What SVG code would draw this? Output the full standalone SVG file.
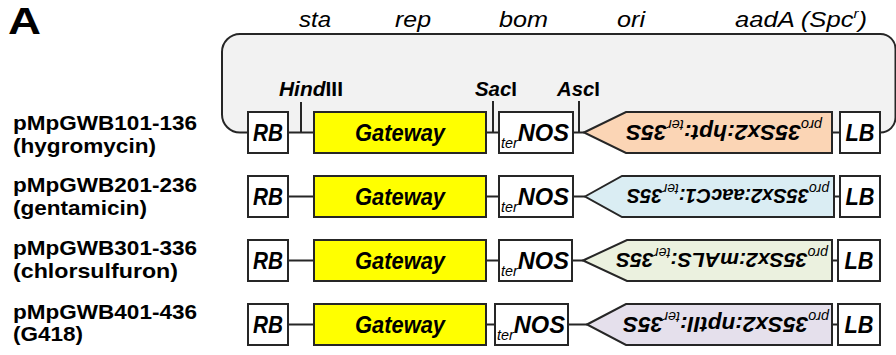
<svg xmlns="http://www.w3.org/2000/svg" width="896" height="355" viewBox="0 0 896 355">
<style>
.t{font-family:"Liberation Sans",Arial,Helvetica,sans-serif;fill:#000}
.b{font-weight:bold}
.i{font-style:italic}
.box{fill:#fff;stroke:#262626;stroke-width:2}
.gw{fill:#ffff00;stroke:#262626;stroke-width:2}
.ln{stroke:#262626;stroke-width:2;fill:none}
.sm{font-size:14px;font-weight:normal;font-style:italic}
.bx{font-size:23px;font-weight:bold;font-style:italic}
</style>
<rect width="896" height="355" fill="#fff"/>

<g id="backbone">
<path d="M248 132.5 H240 A18 18 0 0 1 222 114.5 V52 A18 18 0 0 1 240 34 H880.5 A15 15 0 0 1 895.5 49 V117.5 A15 15 0 0 1 880.5 132.5 Z" fill="#f2f2f2" stroke="none"/>
<path class="ln" d="M248 132.5 H240 A18 18 0 0 1 222 114.5 V52 A18 18 0 0 1 240 34 H880.5 A15 15 0 0 1 895.5 49 V117.5 A15 15 0 0 1 880.5 132.5"/>
</g>

<g id="title"><text class="t b" x="8" y="33.5" font-size="36" textLength="33" lengthAdjust="spacingAndGlyphs">A</text></g>

<g id="backbone-genes" class="t i" font-size="22">
<text x="299" y="27" textLength="32" lengthAdjust="spacingAndGlyphs">sta</text>
<text x="395" y="27" textLength="36" lengthAdjust="spacingAndGlyphs">rep</text>
<text x="499" y="27" textLength="49" lengthAdjust="spacingAndGlyphs">bom</text>
<text x="617" y="27" textLength="28" lengthAdjust="spacingAndGlyphs">ori</text>
<text x="735" y="27" textLength="132" lengthAdjust="spacingAndGlyphs">aadA (Spc<tspan font-size="13" dy="-9">r</tspan><tspan dy="9">)</tspan></text>
</g>

<g id="sites" class="t b" font-size="21">
<text x="279" y="96" textLength="64" lengthAdjust="spacingAndGlyphs"><tspan font-style="italic">Hind</tspan>III</text>
<text x="475" y="96" textLength="42" lengthAdjust="spacingAndGlyphs"><tspan font-style="italic">Sac</tspan>I</text>
<text x="557" y="96" textLength="43" lengthAdjust="spacingAndGlyphs"><tspan font-style="italic">Asc</tspan>I</text>
</g>

<g id="labels" class="t b" font-size="21">
<text x="13" y="130" textLength="184" lengthAdjust="spacingAndGlyphs">pMpGWB101-136</text>
<text x="13" y="153" textLength="143" lengthAdjust="spacingAndGlyphs">(hygromycin)</text>
<text x="13" y="192" textLength="184" lengthAdjust="spacingAndGlyphs">pMpGWB201-236</text>
<text x="13" y="214.5" textLength="134" lengthAdjust="spacingAndGlyphs">(gentamicin)</text>
<text x="13" y="255" textLength="184" lengthAdjust="spacingAndGlyphs">pMpGWB301-336</text>
<text x="13" y="277.5" textLength="165" lengthAdjust="spacingAndGlyphs">(chlorsulfuron)</text>
<text x="13" y="319" textLength="184" lengthAdjust="spacingAndGlyphs">pMpGWB401-436</text>
<text x="13" y="341" textLength="70" lengthAdjust="spacingAndGlyphs">(G418)</text>
</g>

<g id="connectors">
<line class="ln" x1="301" y1="102" x2="301" y2="132.5"/>
<line class="ln" x1="493" y1="101" x2="493" y2="132.5"/>
<line class="ln" x1="579" y1="101" x2="579" y2="132.5"/>
<path class="ln" d="M288 132.5 H314 M486 132.5 H499 M573 132.5 H584 M832 132.5 H840"/>
<path class="ln" d="M288 196.5 H314 M486 196.5 H499 M573 196.5 H585 M834 196.5 H840"/>
<path class="ln" d="M288 260.5 H314 M486 260.5 H499 M572 260.5 H583 M832 260.5 H838"/>
<path class="ln" d="M288 324.5 H314 M486 324.5 H495 M568 324.5 H587 M832 324.5 H838"/>
</g>

<!-- Row 1 -->
<g id="r1-RB"><rect class="box" x="248" y="112" width="40" height="41"/><text class="t bx" x="268" y="141" text-anchor="middle" textLength="30" lengthAdjust="spacingAndGlyphs">RB</text></g>
<g id="r1-GW"><rect class="gw" x="314" y="112" width="172" height="41"/><text class="t bx" x="400" y="141" text-anchor="middle" textLength="90" lengthAdjust="spacingAndGlyphs">Gateway</text></g>
<g id="r1-NOS"><rect class="box" x="499" y="112" width="74" height="41"/><text class="t bx" x="501" y="141" textLength="68" lengthAdjust="spacingAndGlyphs"><tspan class="sm" dy="7">ter</tspan><tspan dy="-7">NOS</tspan></text></g>
<g id="r1-SM"><polygon points="584,132.5 626,112 832,112 832,153 626,153" fill="#fbd5b5" stroke="#262626" stroke-width="2"/><text class="t b i" transform="translate(724,125) rotate(180)" font-size="22" text-anchor="middle" textLength="196" lengthAdjust="spacingAndGlyphs"><tspan class="sm" dy="5">pro</tspan><tspan dy="-5">35Sx2:hpt:</tspan><tspan class="sm" dy="5">ter</tspan><tspan dy="-5">35S</tspan></text></g>
<g id="r1-LB"><rect class="box" x="840" y="112" width="40" height="41"/><text class="t bx" x="860" y="141" text-anchor="middle" textLength="29" lengthAdjust="spacingAndGlyphs">LB</text></g>

<!-- Row 2 -->
<g id="r2-RB"><rect class="box" x="248" y="176" width="40" height="41"/><text class="t bx" x="268" y="205" text-anchor="middle" textLength="30" lengthAdjust="spacingAndGlyphs">RB</text></g>
<g id="r2-GW"><rect class="gw" x="314" y="176" width="172" height="41"/><text class="t bx" x="400" y="205" text-anchor="middle" textLength="90" lengthAdjust="spacingAndGlyphs">Gateway</text></g>
<g id="r2-NOS"><rect class="box" x="499" y="176" width="74" height="41"/><text class="t bx" x="501" y="205" textLength="68" lengthAdjust="spacingAndGlyphs"><tspan class="sm" dy="7">ter</tspan><tspan dy="-7">NOS</tspan></text></g>
<g id="r2-SM"><polygon points="585,196.5 622,176 834,176 834,217 622,217" fill="#daedf3" stroke="#262626" stroke-width="2"/><text class="t b i" transform="translate(728,189) rotate(180)" font-size="20" text-anchor="middle"><tspan class="sm" dy="5">pro</tspan><tspan dy="-5">35Sx2:aacC1:</tspan><tspan class="sm" dy="5">ter</tspan><tspan dy="-5">35S</tspan></text></g>
<g id="r2-LB"><rect class="box" x="840" y="176" width="40" height="41"/><text class="t bx" x="860" y="205" text-anchor="middle" textLength="29" lengthAdjust="spacingAndGlyphs">LB</text></g>

<!-- Row 3 -->
<g id="r3-RB"><rect class="box" x="248" y="240" width="40" height="41"/><text class="t bx" x="268" y="269" text-anchor="middle" textLength="30" lengthAdjust="spacingAndGlyphs">RB</text></g>
<g id="r3-GW"><rect class="gw" x="314" y="240" width="172" height="41"/><text class="t bx" x="400" y="269" text-anchor="middle" textLength="90" lengthAdjust="spacingAndGlyphs">Gateway</text></g>
<g id="r3-NOS"><rect class="box" x="499" y="240" width="73" height="41"/><text class="t bx" x="501" y="269" textLength="68" lengthAdjust="spacingAndGlyphs"><tspan class="sm" dy="7">ter</tspan><tspan dy="-7">NOS</tspan></text></g>
<g id="r3-SM"><polygon points="583,260.5 627,240 832,240 832,281 627,281" fill="#ebf1df" stroke="#262626" stroke-width="2"/><text class="t b i" transform="translate(722,253) rotate(180)" font-size="21" text-anchor="middle" textLength="212" lengthAdjust="spacingAndGlyphs"><tspan class="sm" dy="5">pro</tspan><tspan dy="-5">35Sx2:mALS:</tspan><tspan class="sm" dy="5">ter</tspan><tspan dy="-5">35S</tspan></text></g>
<g id="r3-LB"><rect class="box" x="838" y="240" width="42" height="41"/><text class="t bx" x="859" y="269" text-anchor="middle" textLength="29" lengthAdjust="spacingAndGlyphs">LB</text></g>

<!-- Row 4 -->
<g id="r4-RB"><rect class="box" x="248" y="304" width="40" height="41"/><text class="t bx" x="268" y="333" text-anchor="middle" textLength="30" lengthAdjust="spacingAndGlyphs">RB</text></g>
<g id="r4-GW"><rect class="gw" x="314" y="304" width="172" height="41"/><text class="t bx" x="400" y="333" text-anchor="middle" textLength="90" lengthAdjust="spacingAndGlyphs">Gateway</text></g>
<g id="r4-NOS"><rect class="box" x="495" y="304" width="73" height="41"/><text class="t bx" x="497" y="333" textLength="68" lengthAdjust="spacingAndGlyphs"><tspan class="sm" dy="7">ter</tspan><tspan dy="-7">NOS</tspan></text></g>
<g id="r4-SM"><polygon points="587,324.5 626,304 832,304 832,345 626,345" fill="#e5e0ec" stroke="#262626" stroke-width="2"/><text class="t b i" transform="translate(726,317) rotate(180)" font-size="22" text-anchor="middle" textLength="206" lengthAdjust="spacingAndGlyphs"><tspan class="sm" dy="5">pro</tspan><tspan dy="-5">35Sx2:nptII:</tspan><tspan class="sm" dy="5">ter</tspan><tspan dy="-5">35S</tspan></text></g>
<g id="r4-LB"><rect class="box" x="838" y="304" width="42" height="41"/><text class="t bx" x="859" y="333" text-anchor="middle" textLength="29" lengthAdjust="spacingAndGlyphs">LB</text></g>
</svg>
